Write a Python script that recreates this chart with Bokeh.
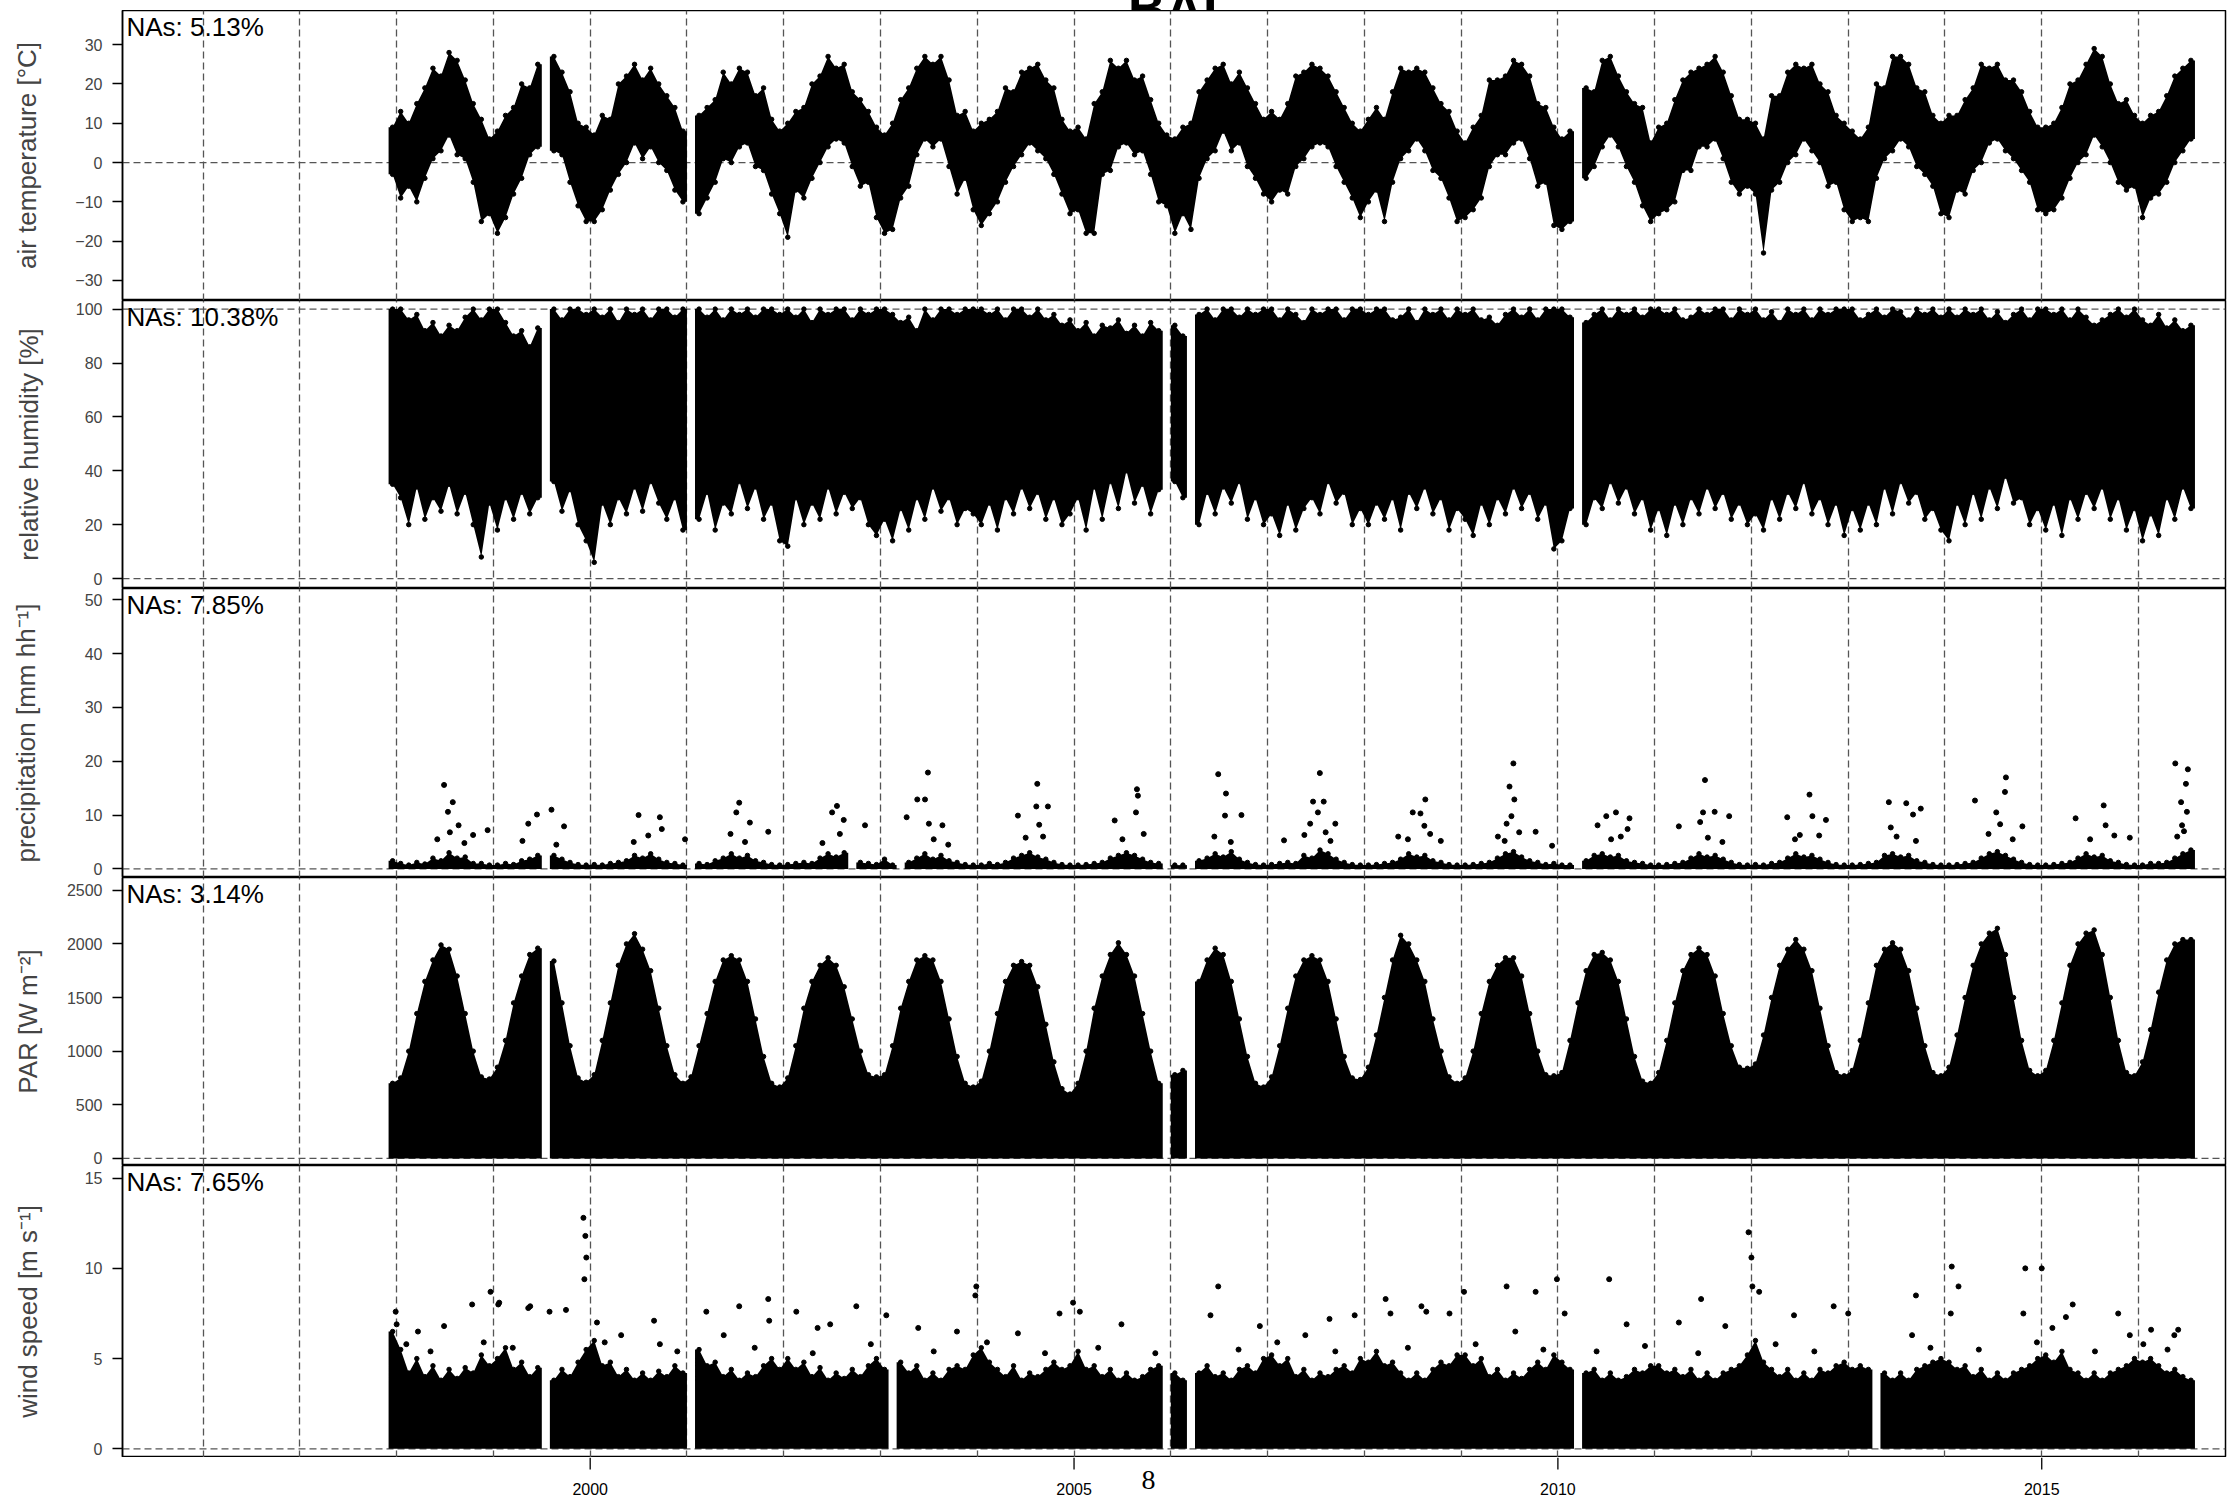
from bokeh.plotting import figure
from bokeh.layouts import column
from bokeh.models import Range1d, FixedTicker, Grid, Span, Label
from bokeh.core.properties import value
from bokeh.embed import file_html
from bokeh.resources import INLINE

N = None  # no data

# monthly envelopes: first value Dec 1997, then one row per year, last row Jan-Jul 2016
temp_hi = [
    9,
    13, 10, 15, 19, 24, 22, 28, 26, 21, 15, 11, 6,
    8, 12, 14, 20, 19, 25, N, 27, 23, 18, 10, 9,
    7, 12, 11, 20, 22, 25, 21, 24, 20, 17, 14, 8,
    N, 12, 14, 16, 23, 20, 24, 23, 17, 19, 11, 8,
    10, 13, 14, 20, 22, 27, 24, 25, 18, 16, 13, 9,
    7, 10, 16, 19, 24, 27, 25, 27, 21, 12, 13, 8,
    10, 11, 13, 19, 18, 23, 24, 25, 21, 19, 11, 8,
    9, 6, 15, 18, 26, 24, 26, 21, 22, 16, 10, 7,
    6, 9, 10, 18, 21, 24, 25, 20, 23, 19, 15, 11,
    13, 11, 15, 22, 23, 25, 24, 22, 18, 14, 10, 8,
    11, 14, 11, 18, 24, 23, 24, 23, 19, 15, 13, 8,
    5, 9, 12, 21, 21, 22, 26, 25, 22, 15, 14, 9,
    6, 8, N, 19, 18, 26, 27, 22, 18, 15, 14, 5,
    9, 10, 16, 21, 23, 24, 25, 27, 23, 17, 11, 11,
    10, 6, 17, 17, 23, 25, 24, 25, 20, 18, 12, 10,
    8, 6, 9, 20, 19, 27, 27, 25, 19, 18, 12, 10,
    12, 12, 16, 19, 25, 24, 25, 21, 21, 18, 13, 9,
    9, 10, 14, 20, 21, 25, 29, 27, 20, 15, 16, 12,
    10, 12, 13, 17, 22, 24, 26,
]
temp_lo = [
    -3,
    -9, -6, -10, -4, 1, 3, 7, 2, 1, -5, -15, -13,
    -18, -14, -8, -4, 2, 4, N, 3, 2, -5, -11, -15,
    -15, -12, -7, -3, 0, 5, 1, 4, 0, -2, -7, -10,
    N, -13, -9, -5, 1, 0, 4, 5, -1, -2, -8, -13,
    -19, -7, -9, -4, 0, 4, 6, 5, -1, -6, -5, -14,
    -18, -17, -9, -6, 2, 6, 4, 6, -1, -8, -4, -12,
    -16, -13, -10, -5, -1, 2, 5, 3, 1, -3, -8, -13,
    -12, -18, -18, -3, -2, 4, 5, 2, 3, -3, -10, -11,
    -18, -13, -17, -4, 1, 3, 8, 3, 5, -1, -4, -8,
    -10, -7, -8, -1, 1, 4, 5, 4, -1, -5, -9, -14,
    -10, -7, -15, -5, 1, 3, 6, 3, -2, -4, -9, -15,
    -14, -12, -9, -1, 2, 2, 5, 6, 1, -6, -5, -16,
    -17, -15, N, -4, -1, 4, 7, 4, -1, -5, -11, -15,
    -13, -12, -10, -2, -2, 4, 4, 6, 1, -5, -8, -6,
    -8, -23, -7, -5, 0, 2, 6, 3, 0, -6, -5, -12,
    -15, -14, -15, -4, 1, 3, 6, 4, -1, -3, -6, -13,
    -14, -7, -8, -2, 0, 5, 6, 3, 1, -2, -5, -12,
    -13, -12, -9, -4, 0, 2, 7, 4, 0, -5, -7, -6,
    -14, -9, -8, -5, 0, 3, 6,
]
hum_hi = [
    100,
    100, 96, 98, 92, 95, 90, 94, 92, 97, 100, 96, 100,
    100, 95, 90, 92, 86, 93, N, 100, 96, 100, 100, 98,
    100, 97, 100, 95, 100, 98, 100, 96, 100, 100, 97, 100,
    N, 100, 97, 100, 96, 100, 98, 100, 97, 100, 100, 98,
    100, 97, 100, 95, 100, 98, 100, 100, 96, 100, 98, 100,
    100, 98, 95, 97, 92, 100, 96, 100, 100, 98, 100, 100,
    100, 98, 100, 96, 100, 100, 97, 100, 96, 98, 94, 96,
    92, 95, 90, 94, 93, 96, 91, 94, 90, 95, 92, N,
    94, 90, N, 98, 100, 96, 100, 100, 97, 100, 98, 100,
    100, 96, 100, 98, 95, 100, 98, 100, 100, 96, 100, 100,
    98, 100, 100, 96, 97, 100, 95, 100, 98, 100, 96, 100,
    98, 100, 96, 97, 94, 98, 100, 97, 100, 96, 100, 100,
    100, 97, N, 95, 98, 100, 96, 100, 98, 100, 97, 100,
    100, 98, 100, 96, 97, 100, 98, 100, 100, 96, 100, 98,
    100, 96, 99, 95, 100, 98, 100, 96, 100, 98, 100, 100,
    100, 96, 98, 100, 97, 100, 99, 96, 100, 98, 100, 97,
    100, 97, 100, 98, 100, 96, 99, 95, 98, 100, 96, 100,
    100, 98, 100, 96, 100, 97, 94, 96, 98, 100, 97, 100,
    96, 94, 98, 93, 96, 92, 94,
]
hum_lo = [
    35,
    30, 20, 34, 22, 30, 25, 35, 24, 32, 20, 8, 28,
    18, 30, 22, 32, 24, 30, N, 36, 25, 33, 20, 14,
    6, 28, 20, 30, 24, 34, 25, 36, 28, 22, 30, 18,
    N, 22, 32, 18, 28, 24, 36, 26, 34, 22, 28, 14,
    12, 30, 20, 28, 22, 34, 24, 32, 26, 30, 20, 16,
    22, 14, 26, 18, 30, 22, 34, 25, 30, 20, 26, 24,
    20, 28, 18, 30, 24, 34, 26, 32, 22, 30, 20, 24,
    30, 18, 34, 22, 36, 26, 40, 28, 35, 24, 33, N,
    36, 30, N, 20, 32, 24, 34, 28, 36, 22, 30, 20,
    24, 16, 28, 18, 26, 30, 24, 36, 28, 32, 20, 26,
    20, 28, 22, 30, 18, 32, 26, 34, 24, 30, 18, 26,
    22, 16, 28, 20, 30, 24, 34, 26, 32, 22, 28, 11,
    14, 26, N, 20, 30, 26, 36, 28, 34, 24, 30, 18,
    26, 16, 28, 20, 30, 24, 34, 26, 32, 22, 28, 20,
    24, 18, 30, 22, 32, 26, 36, 24, 30, 20, 28, 16,
    26, 18, 28, 20, 34, 24, 36, 28, 32, 22, 26, 18,
    14, 28, 20, 32, 22, 34, 26, 38, 28, 30, 20, 26,
    18, 28, 16, 30, 22, 32, 26, 34, 22, 30, 18, 26,
    14, 24, 16, 30, 22, 34, 26,
]
prec_hi = [
    1.5,
    1.0, 0.7, 1.2, 0.9, 2.0, 1.5, 3.0, 2.0, 2.2, 1.0, 1.0, 0.7,
    0.7, 1.0, 0.8, 1.5, 1.8, 2.5, N, 2.5, 1.8, 1.2, 0.8, 0.7,
    0.8, 0.7, 1.0, 1.2, 1.5, 2.5, 2.0, 2.8, 1.8, 1.2, 1.0, 0.7,
    N, 1.0, 0.8, 1.5, 2.0, 2.8, 2.0, 2.5, 1.5, 1.2, 0.8, 0.7,
    0.8, 1.0, 1.2, 1.0, 2.0, 2.8, 2.2, 3.0, N, 1.2, 1.0, 0.8,
    1.8, 0.7, N, 1.2, 2.0, 2.8, 1.8, 2.5, 1.5, 1.2, 0.8, 0.7,
    0.7, 1.0, 0.8, 1.2, 2.0, 2.5, 3.0, 2.2, 1.8, 1.2, 0.8, 0.7,
    0.7, 0.8, 1.0, 1.2, 2.0, 2.5, 3.0, 2.5, 1.8, 1.2, 1.0, N,
    0.7, 0.7, N, 1.5, 2.0, 2.8, 2.2, 3.2, 1.8, 1.2, 0.8, 0.7,
    0.8, 1.0, 1.2, 1.0, 2.5, 2.0, 3.5, 2.8, 1.8, 1.2, 0.8, 0.7,
    0.7, 0.8, 1.0, 1.2, 1.8, 2.8, 2.2, 2.5, 1.5, 1.2, 0.8, 0.7,
    0.7, 0.8, 1.0, 1.2, 2.0, 2.8, 3.2, 2.2, 1.5, 1.2, 0.8, 1.0,
    0.7, 0.7, N, 1.5, 2.5, 2.8, 2.2, 2.5, 1.5, 1.2, 1.0, 0.7,
    0.7, 0.8, 1.0, 1.2, 2.0, 2.8, 2.2, 2.5, 1.8, 1.2, 0.8, 0.7,
    0.8, 0.7, 1.0, 1.2, 2.0, 2.8, 2.2, 2.5, 1.8, 1.2, 0.8, 0.7,
    0.7, 0.8, 1.0, 1.2, 2.5, 2.8, 2.2, 2.5, 1.5, 1.2, 0.8, 0.7,
    0.7, 0.8, 1.0, 1.2, 2.0, 2.8, 3.2, 2.5, 1.8, 1.2, 0.8, 0.7,
    0.7, 0.8, 1.0, 1.2, 2.0, 2.8, 2.2, 2.5, 1.5, 1.2, 0.8, 0.7,
    0.7, 1.0, 1.0, 1.2, 2.0, 2.8, 3.5,
]
par_hi = [
    700,
    750, 1000, 1350, 1650, 1850, 1990, 1950, 1700, 1350, 1000, 760, 740,
    850, 1100, 1450, 1700, 1900, 1960, N, 1840, 1450, 1050, 750, 710,
    780, 1100, 1450, 1800, 2000, 2095, 1950, 1750, 1400, 1050, 780, 700,
    760, 1050, 1350, 1650, 1850, 1890, 1850, 1650, 1300, 950, 700, 665,
    750, 1050, 1400, 1650, 1800, 1870, 1800, 1600, 1300, 1000, 780, 760,
    780, 1050, 1400, 1650, 1850, 1890, 1850, 1650, 1300, 950, 700, 665,
    720, 1000, 1350, 1650, 1800, 1835, 1800, 1600, 1250, 900, 650, 600,
    700, 1000, 1400, 1700, 1900, 2010, 1900, 1700, 1350, 1000, 700, N,
    780, 820, N, 1650, 1850, 1960, 1900, 1650, 1300, 950, 700, 665,
    760, 1050, 1400, 1700, 1850, 1890, 1850, 1650, 1300, 950, 750, 735,
    850, 1150, 1500, 1850, 2080, 2000, 1850, 1650, 1300, 1000, 760, 700,
    750, 1000, 1350, 1650, 1800, 1870, 1870, 1700, 1350, 1000, 780, 770,
    800, 1100, 1450, 1750, 1900, 1920, 1850, 1650, 1300, 950, 720, 700,
    800, 1100, 1450, 1750, 1900, 1960, 1900, 1700, 1350, 1050, 850, 840,
    880, 1150, 1500, 1800, 1950, 2040, 1950, 1750, 1400, 1050, 800, 770,
    820, 1100, 1450, 1800, 1950, 2010, 1950, 1750, 1400, 1050, 800, 770,
    850, 1150, 1500, 1800, 2000, 2100, 2145, 1900, 1500, 1100, 820, 770,
    820, 1100, 1450, 1800, 2000, 2100, 2130, 1900, 1500, 1100, 800, 770,
    900, 1200, 1550, 1850, 2000, 2040, 2040,
]
wind_hi = [
    6.5,
    5.5, 4.2, 5.0, 4.0, 4.6, 3.8, 4.4, 3.9, 4.5, 4.2, 5.2, 4.6,
    5.0, 5.6, 4.4, 4.8, 4.0, 4.5, N, 3.8, 4.4, 4.0, 4.8, 5.5,
    6.0, 4.6, 4.8, 4.0, 4.4, 3.8, 4.2, 3.8, 4.3, 4.0, 4.6, 4.2,
    N, 5.5, 4.6, 4.8, 4.0, 4.4, 3.8, 4.2, 4.0, 4.6, 5.0, 4.4,
    5.0, 4.4, 4.8, 4.0, 4.5, 3.8, 4.2, 3.9, 4.4, 4.0, 4.6, 5.0,
    4.4, N, 4.8, 4.2, 4.6, 3.8, 4.2, 3.8, 4.4, 4.6, 4.4, 5.2,
    5.6, 4.8, 4.4, 4.0, 4.6, 3.8, 4.2, 4.0, 4.4, 4.8, 4.4, 4.6,
    5.4, 4.4, 4.6, 4.0, 4.4, 3.8, 4.2, 3.8, 4.0, 4.4, 4.6, N,
    4.2, 3.8, N, 4.2, 4.6, 4.0, 4.2, 3.8, 4.4, 4.6, 4.2, 5.0,
    5.2, 4.6, 5.0, 4.0, 4.4, 3.8, 4.2, 4.0, 4.4, 4.6, 4.2, 5.0,
    4.8, 5.4, 4.6, 4.8, 4.2, 3.8, 4.2, 3.8, 4.4, 4.8, 4.6, 5.2,
    5.2, 4.6, 5.0, 4.0, 4.4, 3.8, 4.2, 3.9, 4.4, 4.8, 4.4, 5.2,
    4.8, 4.4, N, 4.2, 4.4, 3.8, 4.2, 3.8, 4.0, 4.4, 4.2, 4.6,
    4.6, 4.2, 4.4, 4.0, 4.4, 3.8, 4.2, 3.8, 4.2, 4.4, 4.6, 5.2,
    6.0, 4.8, 4.4, 4.0, 4.4, 3.8, 4.2, 3.8, 4.4, 4.2, 4.6, 4.8,
    4.4, 4.6, 4.4, N, 4.2, 3.8, 4.2, 3.8, 4.4, 4.6, 4.8, 5.0,
    4.8, 4.4, 4.6, 4.0, 4.4, 3.8, 4.2, 3.8, 4.2, 4.4, 4.6, 5.0,
    5.2, 4.8, 5.4, 4.4, 4.2, 3.8, 4.2, 3.8, 4.2, 4.4, 4.6, 5.0,
    4.8, 5.0, 4.6, 4.2, 4.4, 4.0, 3.8,
]

# single readings standing above the dense bands
prec_pt_t = [1998.49, 1998.58, 1998.53, 1998.64, 1998.94, 1998.79, 1999.45, 1999.36, 1999.60, 1999.73,
             2000.50, 2000.72, 2000.74, 2000.98, 2001.54, 2001.51, 2001.65, 2001.84, 2002.55, 2002.50,
             2002.62, 2002.84, 2003.49, 2003.38, 2003.46, 2003.27, 2003.50, 2003.64, 2004.62, 2004.61,
             2004.73, 2004.42, 2004.64, 2005.65, 2005.66, 2005.64, 2005.42, 2006.49, 2006.57, 2006.56,
             2006.73, 2007.17, 2007.54, 2007.47, 2007.58, 2007.52, 2007.44, 2007.70, 2007.38, 2008.63,
             2008.50, 2008.58, 2008.62, 2008.79, 2008.35, 2009.54, 2009.50, 2009.55, 2009.52, 2009.47,
             2009.77, 2009.38, 2009.94, 2010.60, 2010.50, 2010.74, 2010.41, 2010.72, 2011.52, 2011.50,
             2011.62, 2011.77, 2011.25, 2011.47, 2012.60, 2012.37, 2012.63, 2012.77, 2012.50, 2013.42,
             2013.60, 2013.75, 2013.67, 2013.44, 2014.63, 2014.62, 2014.31, 2014.53, 2014.80, 2014.57,
             2015.64, 2015.35, 2015.66, 2015.91, 2016.38, 2016.51, 2016.49, 2016.44, 2016.50, 2016.45,
             1998.42, 1998.55, 1998.70, 1999.30, 1999.65, 2000.45, 2000.60, 2001.45, 2001.60, 2002.40,
             2002.58, 2003.55, 2003.70, 2004.50, 2004.68, 2005.50, 2005.72, 2006.45, 2006.62, 2007.60,
             2007.65, 2008.45, 2008.68, 2009.45, 2009.60, 2010.55, 2010.65, 2011.55, 2011.70, 2012.45,
             2012.70, 2013.50, 2013.70, 2014.45, 2014.70, 2015.50, 2015.75, 2016.40, 2016.47]
prec_pt_v = [15.6, 12.4, 10.6, 8.1, 7.2, 6.3, 10.1, 8.4, 11.0, 7.9,
             10.0, 9.6, 7.4, 5.5, 12.3, 10.5, 8.6, 6.9, 11.7, 10.5,
             9.1, 8.1, 17.9, 12.9, 12.9, 9.6, 8.4, 8.1, 15.8, 11.6,
             11.6, 9.9, 8.2, 14.8, 13.6, 10.5, 9.0, 17.6, 14.0, 9.9,
             10.0, 5.3, 17.8, 12.5, 12.5, 10.5, 8.4, 8.4, 6.3, 12.9,
             10.5, 10.3, 8.0, 5.2, 6.0, 19.6, 15.3, 12.9, 9.8, 8.4,
             6.9, 6.0, 4.3, 10.5, 9.8, 9.4, 8.1, 7.4, 16.5, 10.5,
             10.6, 9.8, 7.9, 8.7, 13.8, 9.6, 9.8, 9.1, 6.3, 12.4,
             12.2, 11.2, 10.1, 7.7, 17.0, 14.3, 12.7, 10.5, 7.9, 8.3,
             11.8, 9.4, 8.1, 5.8, 19.6, 18.5, 15.8, 12.4, 10.6, 8.1,
             5.5, 6.8, 4.8, 5.2, 4.5, 5.0, 6.2, 6.5, 5.0, 4.8,
             6.5, 5.5, 4.5, 5.8, 6.0, 5.5, 6.5, 6.0, 5.0, 6.8,
             5.2, 5.5, 6.5, 5.2, 6.8, 5.5, 6.0, 5.8, 5.0, 5.5,
             6.2, 6.0, 5.2, 6.5, 5.5, 5.5, 6.2, 6.0, 7.0]
wind_pt_t = [1999.93, 1999.95, 1999.96, 1999.94, 1998.97, 1999.05, 1999.38, 1999.75, 2000.66, 2001.54,
             2001.84, 2002.35, 2002.75, 2003.98, 2003.99, 2004.85, 2004.99, 2006.49, 2007.64, 2008.22,
             2008.59, 2009.03, 2009.47, 2009.77, 2009.99, 2010.53, 2011.48, 2011.97, 2012.00, 2012.01,
             2012.08, 2012.85, 2013.70, 2014.07, 2014.14, 2014.83, 2015.00, 2015.32, 2015.79, 2016.37,
             1997.99, 1998.00, 1998.22, 1998.49, 1998.78, 1999.06, 1999.36, 1999.58, 2000.07, 2000.32,
             2000.72, 2001.20, 2001.38, 2001.85, 2002.13, 2002.48, 2003.06, 2003.39, 2003.79, 2004.42,
             2005.06, 2005.49, 2005.84, 2006.41, 2006.92, 2007.39, 2007.90, 2008.27, 2008.64, 2008.88,
             2009.56, 2010.07, 2010.71, 2011.25, 2011.73, 2012.44, 2013.00, 2013.66, 2014.06, 2014.81,
             2015.11, 2015.25, 2015.91, 2016.13, 2016.41,
             1998.10, 1998.35, 1998.90, 1999.20, 2000.15, 2000.90, 2001.70, 2002.30, 2002.90, 2003.55,
             2004.10, 2004.70, 2005.25, 2006.70, 2007.10, 2007.70, 2008.45, 2009.15, 2009.85, 2010.40,
             2010.90, 2011.45, 2012.25, 2012.65, 2013.85, 2014.35, 2014.95, 2015.55, 2016.05, 2016.30]
wind_pt_v = [12.8, 11.8, 10.6, 9.4, 8.7, 8.0, 7.9, 7.7, 7.1, 7.9,
             8.3, 6.7, 7.9, 8.5, 9.0, 7.5, 8.1, 9.0, 7.2, 8.3,
             7.9, 8.7, 9.0, 8.7, 9.4, 9.4, 8.3, 12.0, 10.6, 9.0,
             8.7, 7.9, 8.5, 10.1, 9.0, 10.0, 10.0, 8.0, 7.5, 6.3,
             7.6, 6.9, 6.5, 6.8, 8.0, 8.1, 7.8, 7.6, 7.0, 6.3,
             5.8, 7.6, 6.3, 7.1, 7.6, 6.9, 7.4, 6.7, 6.5, 6.4,
             7.6, 6.9, 5.3, 7.4, 6.8, 6.3, 7.4, 7.5, 7.6, 7.5,
             6.5, 7.5, 6.9, 7.0, 6.8, 7.4, 7.5, 6.3, 7.5, 7.5,
             6.7, 7.3, 6.3, 6.6, 6.6,
             5.8, 5.4, 5.9, 5.6, 5.9, 5.4, 5.6, 5.3, 5.8, 5.4,
             5.9, 5.3, 5.6, 5.5, 5.9, 5.4, 5.6, 5.8, 5.5, 5.4,
             5.7, 5.3, 5.8, 5.4, 5.6, 5.5, 5.9, 5.4, 5.8, 5.5]

na_text = ["NAs: 5.13%", "NAs: 10.38%", "NAs: 7.85%", "NAs: 3.14%", "NAs: 7.65%"]
y_labels = ["air temperature [°C]", "relative humidity [%]", "precipitation [mm hh⁻¹]",
            "PAR [W m⁻²]", "wind speed [m s⁻¹]"]
grid_years = list(range(1996, 2017))
x_ticks = [2000, 2005, 2010, 2015]
x_tick_text = ["2000", "2005", "2010", "2015"]
title_text = "BAI"
title_x = 2006.02
xlab_text = "8"
xlab_x = 2005.77

FW = 2103
LEFT = 122
DASH = "7 4"
GREY = "#555555"
FONT = "Liberation Sans"
x_range = Range1d(1995.167, 1995.167 + FW / 96.77)
start = 1997 + 11 / 12


def month_runs(hi, lo=None):
    """contiguous stretches of months with data, padded half a month each side"""
    t = [start + (k + 0.5) / 12 for k in range(len(hi))]
    runs, cur = [], []
    for i, v in enumerate(hi):
        if v is None:
            if cur:
                runs.append(cur)
            cur = []
        else:
            cur.append(i)
    if cur:
        runs.append(cur)
    out = []
    for r in runs:
        xs = [t[r[0]] - 1 / 24] + [t[i] for i in r] + [t[r[-1]] + 1 / 24]
        top = [hi[r[0]]] + [hi[i] for i in r] + [hi[r[-1]]]
        if lo is None:
            bot = [0] * len(xs)
        else:
            bot = [lo[r[0]]] + [lo[i] for i in r] + [lo[r[-1]]]
        out.append((xs, top, bot))
    return out


def strip(h):
    # blank strip sharing the x scale, for the text above and below the panels
    s = figure(frame_width=FW, frame_height=h, x_range=x_range, y_range=Range1d(0, h),
               x_axis_location=None, y_axis_location=None,
               toolbar_location=None, output_backend="svg",
               min_border_left=LEFT, min_border_right=2, min_border_top=0, min_border_bottom=0)
    s.grid.visible = False
    s.outline_line_color = None
    return s


def panel(y0, y1, ticks, idx, fh, label_gap):
    p = figure(frame_width=FW, frame_height=fh, x_range=x_range, y_range=Range1d(y0, y1),
               x_axis_location=None,
               toolbar_location=None, output_backend="svg",
               min_border_left=LEFT, min_border_right=2,
               min_border_top=0, min_border_bottom=0)
    p.grid.visible = False
    p.outline_line_color = "black"
    p.outline_line_width = 1.5
    p.add_layout(Grid(dimension=0, ticker=FixedTicker(ticks=grid_years),
                      grid_line_color=GREY, grid_line_dash=DASH, grid_line_width=1.3))
    p.add_layout(Span(location=0, dimension="width", line_color=GREY,
                      line_dash=DASH, line_width=1.3, level="underlay"))

    ax = p.yaxis[0]
    ax.ticker = FixedTicker(ticks=ticks)
    ax.axis_label = y_labels[idx]
    ax.axis_label_text_font = FONT
    ax.axis_label_text_font_size = "26px"
    ax.axis_label_text_font_style = "normal"
    ax.axis_label_standoff = label_gap
    ax.major_label_text_font = FONT
    ax.major_label_text_font_size = "16px"
    ax.major_label_standoff = 10
    ax.major_tick_out = 10
    ax.major_tick_in = 0
    ax.minor_tick_out = 0
    ax.minor_tick_in = 0
    ax.axis_line_width = 1.5
    ax.major_tick_line_width = 1.3

    p.add_layout(Label(x=4, y=fh - 1, x_units="screen", y_units="screen", text=na_text[idx],
                       text_baseline="top", text_font=FONT, text_font_size="26px",
                       text_color="black"))
    return p


def band(p, hi, lo=None):
    for xs, top, bot in month_runs(hi, lo):
        p.varea(x=xs, y1=bot, y2=top, fill_color="black")
        p.scatter(xs[1:-1], top[1:-1], size=4.5, color="black")
        if lo is not None:
            p.scatter(xs[1:-1], bot[1:-1], size=4.5, color="black")


p0 = strip(20)
p0.text(x=[title_x], y=[3], text=[title_text], text_align="center", text_baseline="alphabetic",
        text_font=value(FONT), text_font_size="52px", text_font_style="bold", text_color="black")

p1 = panel(-35.1, 38.7, [-30, -20, -10, 0, 10, 20, 30], 0, 290, 30)
band(p1, temp_hi, temp_lo)

p2 = panel(-3.7, 103.2, [0, 20, 40, 60, 80, 100], 1, 288, 29)
p2.add_layout(Span(location=100, dimension="width", line_color=GREY,
                   line_dash=DASH, line_width=1.3, level="underlay"))
band(p2, hum_hi, hum_lo)

p3 = panel(-1.6, 52.1, [0, 10, 20, 30, 40, 50], 2, 289, 41)
band(p3, prec_hi)
p3.scatter(prec_pt_t, prec_pt_v, size=5, color="black")

p4 = panel(-66, 2619, [0, 500, 1000, 1500, 2000, 2500], 3, 288, 21)
band(p4, par_hi)

p5 = panel(-0.48, 15.7, [0, 5, 10, 15], 4, 292, 39)
band(p5, wind_hi)
p5.scatter(wind_pt_t, wind_pt_v, size=5, color="black")

# time axis below the last panel: tick marks, year labels and the "8"
p6 = strip(38)
p6.segment(x0=x_ticks, y0=[38] * len(x_ticks), x1=x_ticks, y1=[26] * len(x_ticks),
           line_color="black", line_width=1.3)
p6.text(x=x_ticks, y=[7] * len(x_ticks), text=x_tick_text, text_align="center",
        text_baseline="middle", text_font=value(FONT), text_font_size="16px", text_color="black")
p6.text(x=[xlab_x], y=[16], text=[xlab_text], text_align="center", text_baseline="middle",
        text_font=value("Liberation Serif"), text_font_size="28px", text_color="black")

layout = column(p0, p1, p2, p3, p4, p5, p6, styles={"margin-top": "-10px"})

open("out.html", "w").write(file_html(layout, INLINE))
